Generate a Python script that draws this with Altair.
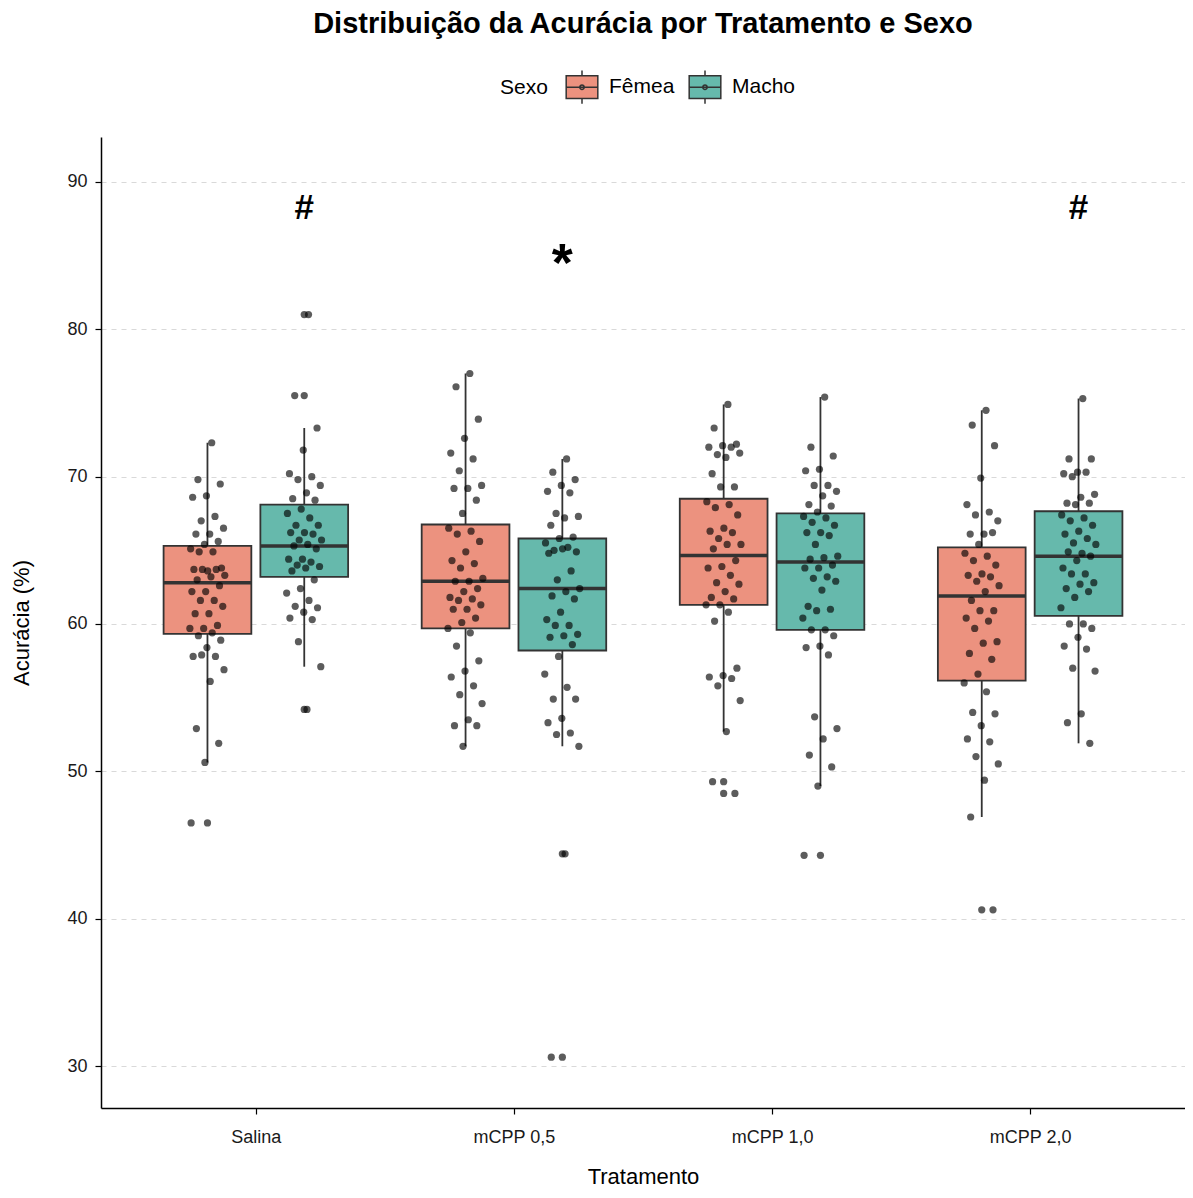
import json
import altair as alt
import pandas as pd

# ---------------- data ----------------
tratamentos = ["Salina", "mCPP 0,5", "mCPP 1,0", "mCPP 2,0"]
sexos = ["Fêmea", "Macho"]
cores = ["#EC927F", "#66B9AC"]

salina_femea = [72.3, 69.8, 69.5, 68.7, 68.6, 67.3, 67.0, 66.5, 66.1, 66.1, 65.6, 65.4, 65.1, 64.9, 64.9,
                63.8, 63.6, 63.7, 63.7, 63.7, 63.3, 63.2, 63.0, 62.6, 62.2, 62.2, 61.6, 61.6, 61.2, 60.7,
                60.7, 59.9, 59.7, 59.7, 59.4, 59.2, 58.9, 58.4, 57.8, 57.8, 57.9, 56.9, 56.1, 52.9, 51.9,
                50.6, 46.5]
salina_macho = [81.0, 75.5, 73.3, 71.8, 70.2, 70.0, 69.8, 69.4, 68.9, 68.5, 68.4, 67.8, 67.5, 67.2, 66.7,
                66.7, 66.2, 66.2, 66.1, 65.7, 65.7, 65.4, 65.3, 65.1, 64.4, 64.4, 64.2, 64.0, 63.9, 63.8,
                63.6, 63.0, 62.4, 62.1, 61.6, 61.2, 61.1, 60.8, 60.4, 60.3, 58.8, 57.1, 54.2]
mcpp05_femea = [77.0, 76.1, 73.9, 72.6, 71.6, 71.2, 70.4, 69.4, 69.2, 69.2, 68.4, 67.5, 66.5, 66.3, 66.1,
                65.6, 64.9, 64.3, 64.1, 63.8, 63.1, 62.9, 62.9, 62.4, 62.2, 61.8, 61.7, 61.6, 61.3, 61.0,
                61.0, 60.4, 60.1, 59.7, 59.4, 58.5, 57.5, 56.8, 56.4, 55.8, 55.2, 54.6, 53.5, 53.1, 53.1,
                51.7]
mcpp05_macho = [71.2, 70.3, 69.8, 69.4, 69.0, 68.9, 67.5, 67.3, 67.2, 66.7, 65.9, 65.8, 65.5, 65.2, 65.0,
                64.9, 65.1, 64.8, 63.6, 63.0, 62.4, 62.2, 61.9, 61.7, 60.8, 60.3, 59.9, 59.9, 59.3, 59.2,
                59.1, 58.6, 57.8, 56.6, 55.7, 54.9, 54.9, 53.6, 53.3, 52.6, 52.5, 51.7, 44.4, 30.6]
mcpp10_femea = [74.9, 73.3, 72.2, 72.1, 72.0, 72.0, 71.5, 71.6, 71.3, 70.2, 69.3, 69.3, 68.3, 68.1, 67.9,
                67.4, 66.5, 66.3, 66.2, 65.8, 65.4, 65.4, 65.1, 64.3, 63.9, 63.8, 63.3, 62.8, 62.7, 62.2,
                61.8, 61.7, 61.3, 61.3, 60.8, 60.2, 57.0, 56.5, 56.4, 56.3, 55.8, 54.8, 52.7, 49.3, 48.5]
mcpp10_macho = [75.4, 72.0, 71.4, 70.5, 70.4, 69.4, 69.4, 69.0, 68.7, 68.1, 68.0, 67.6, 67.3, 67.2, 66.9,
                66.7, 66.2, 66.2, 66.0, 65.4, 64.6, 64.5, 64.4, 64.0, 63.8, 63.8, 63.2, 63.1, 62.9, 62.3,
                61.2, 61.0, 60.9, 60.4, 59.6, 59.6, 59.2, 58.5, 58.4, 57.9, 53.7, 52.9, 52.2, 51.1, 50.3,
                49.0, 44.3]
mcpp20_femea = [74.5, 73.5, 72.1, 69.9, 68.1, 67.6, 67.4, 67.0, 66.1, 66.1, 66.2, 65.4, 64.8, 64.6, 64.3,
                64.0, 63.4, 63.3, 63.2, 62.9, 62.6, 62.2, 61.6, 60.9, 60.9, 60.4, 60.2, 59.7, 58.8, 58.7,
                58.0, 57.6, 56.6, 56.0, 55.4, 54.0, 53.9, 53.1, 52.2, 52.0, 51.0, 50.5, 49.4, 46.9, 40.6]
mcpp20_macho = [75.3, 71.2, 71.2, 70.3, 70.2, 70.3, 70.0, 68.8, 68.6, 68.2, 68.2, 68.1, 67.4, 67.2, 67.0,
                66.7, 66.3, 66.1, 65.8, 65.5, 65.4, 64.8, 64.9, 64.6, 64.3, 63.8, 63.4, 63.4, 62.8, 62.7,
                62.4, 62.2, 61.8, 61.1, 60.0, 60.0, 59.7, 59.1, 58.5, 58.3, 57.0, 56.8, 53.9, 53.3, 51.9]

# box statistics, order: Salina F, Salina M, 0,5 F, 0,5 M, 1,0 F, 1,0 M, 2,0 F, 2,0 M
q1 = [59.33, 63.2, 59.7, 58.2, 61.3, 59.6, 56.15, 60.55]
mediana = [62.8, 65.3, 62.9, 62.4, 64.65, 64.2, 61.9, 64.6]
q3 = [65.3, 68.1, 66.75, 65.8, 68.5, 67.5, 65.2, 67.65]
bigode_inf = [50.6, 57.1, 51.7, 51.7, 52.7, 49.0, 46.9, 51.9]
bigode_sup = [72.3, 73.3, 77.0, 71.2, 74.9, 75.4, 74.5, 75.3]

anot_tratamento = ["Salina", "mCPP 0,5", "mCPP 2,0"]
anot_sexo = ["Macho", "Macho", "Macho"]
anot_texto = ["#", "*", "#"]
anot_valor = [87.5, 83.3, 87.5]

# ---------------- tables ----------------
grupos = [
    ("Salina", "Fêmea", salina_femea), ("Salina", "Macho", salina_macho),
    ("mCPP 0,5", "Fêmea", mcpp05_femea), ("mCPP 0,5", "Macho", mcpp05_macho),
    ("mCPP 1,0", "Fêmea", mcpp10_femea), ("mCPP 1,0", "Macho", mcpp10_macho),
    ("mCPP 2,0", "Fêmea", mcpp20_femea), ("mCPP 2,0", "Macho", mcpp20_macho),
]
rows = []
for t, s, vals in grupos:
    for v in vals:
        rows.append({"tratamento": t, "sexo": s, "valor": v})
pontos = pd.DataFrame(rows)

stats = pd.DataFrame({
    "tratamento": [t for t in tratamentos for _ in sexos],
    "sexo": sexos * len(tratamentos),
    "q1": q1, "mediana": mediana, "q3": q3,
    "bigode_inf": bigode_inf, "bigode_sup": bigode_sup,
})

m = pontos.merge(stats, on=["tratamento", "sexo"])
outliers = m[(m.valor < m.bigode_inf - 1e-9) | (m.valor > m.bigode_sup + 1e-9)][["tratamento", "sexo", "valor"]]

anot = pd.DataFrame({"tratamento": anot_tratamento, "sexo": anot_sexo,
                     "texto": anot_texto, "valor": anot_valor})

# ---------------- encodings ----------------
FONT = "Liberation Sans"
XPOS = (f"indexof({json.dumps(tratamentos)}, datum.tratamento) + 1 + "
        f"(indexof({json.dumps(sexos, ensure_ascii=False)}, datum.sexo) - 0.5) * 0.375")

xscale = alt.Scale(domain=[0.4, 4.6], nice=False, zero=False)
yscale = alt.Scale(domain=[27.15, 93.05], nice=False, zero=False)

xaxis = alt.Axis(values=[1, 2, 3, 4], labelExpr=f"{json.dumps(tratamentos)}[datum.value - 1]",
                 grid=False, domainColor="black", domainWidth=1.5, tickColor="black",
                 tickWidth=1.2, tickSize=6, labelFontSize=18, labelColor="#1a1a1a",
                 labelPadding=14, titleFontSize=22, titleFontWeight="normal",
                 titleColor="black", titlePadding=20, labelFont=FONT, titleFont=FONT)
yaxis = alt.Axis(values=[30, 40, 50, 60, 70, 80, 90], grid=True, gridDash=[5, 5],
                 gridColor="#d9d9d9", gridWidth=1, domainColor="black", domainWidth=1.5,
                 tickColor="black", tickWidth=1.2, tickSize=6, labelFontSize=18,
                 labelColor="#1a1a1a", labelPadding=8, titleFontSize=22,
                 titleFontWeight="normal", titleColor="black", titlePadding=33,
                 labelFont=FONT, titleFont=FONT)


def X(f):
    return alt.X(f, scale=xscale, axis=xaxis, title="Tratamento")


def Y(f):
    return alt.Y(f, scale=yscale, axis=yaxis, title="Acurácia (%)")


base = (alt.Chart(stats)
        .transform_calculate(xpos=XPOS)
        .transform_calculate(xl="datum.xpos - 0.17", xr="datum.xpos + 0.17"))

bigode_baixo = base.mark_rule(color="#333333", strokeWidth=1.8).encode(
    x=X("xpos:Q"), y=Y("bigode_inf:Q"), y2="q1:Q")
bigode_alto = base.mark_rule(color="#333333", strokeWidth=1.8).encode(
    x=X("xpos:Q"), y=Y("q3:Q"), y2="bigode_sup:Q")

legend_path = ("M-1,-0.72H1V0.72H-1Z M0,-1.05V-0.72 M0,0.72V1.05 M-1,0H1 "
               "M0.14,0A0.14,0.14 0 1,1 -0.14,0A0.14,0.14 0 1,1 0.14,0")

caixas = base.mark_rect(stroke="#333333", strokeWidth=1.8, opacity=1).encode(
    x=X("xl:Q"), x2="xr:Q", y=Y("q1:Q"), y2="q3:Q",
    color=alt.Color("sexo:N", scale=alt.Scale(domain=sexos, range=cores),
                    legend=alt.Legend(title="Sexo", orient="none", legendX=399, legendY=-67,
                                      direction="horizontal", titleOrient="left",
                                      symbolType=legend_path, symbolSize=1000,
                                      symbolStrokeColor="#333333", symbolStrokeWidth=1.5,
                                      labelFontSize=21, titleFontSize=21,
                                      titleFontWeight="normal", titleColor="black",
                                      labelColor="black", labelOffset=10, titlePadding=17,
                                      columnPadding=11, labelFont=FONT, titleFont=FONT)))

medianas = base.mark_rule(color="#333333", strokeWidth=3.5).encode(
    x=X("xl:Q"), x2="xr:Q", y=Y("mediana:Q"))

pts = (alt.Chart(pontos)
       .transform_calculate(xpos=XPOS)
       .transform_window(rn="row_number()", groupby=["tratamento", "sexo"])
       .transform_calculate(xj="datum.xpos + ((datum.rn * 0.618034) % 1 - 0.5) * 0.14")
       .mark_circle(size=52, color="black", opacity=0.64)
       .encode(x=X("xj:Q"), y=Y("valor:Q")))

outl = (alt.Chart(outliers)
        .transform_calculate(xpos=XPOS)
        .mark_circle(size=52, color="black", opacity=0.64)
        .encode(x=X("xpos:Q"), y=Y("valor:Q")))

anot_base = alt.Chart(anot).transform_calculate(xpos=XPOS)
hash_txt = (anot_base.transform_filter("datum.texto === '#'")
            .mark_text(fontSize=35, fontWeight="bold", font=FONT, color="black",
                       baseline="alphabetic", align="center")
            .encode(x=X("xpos:Q"), y=Y("valor:Q"), text="texto:N"))
star_txt = (anot_base.transform_filter("datum.texto === '*'")
            .mark_text(fontSize=54, fontWeight="bold", font=FONT, color="black",
                       baseline="alphabetic", align="center")
            .encode(x=X("xpos:Q"), y=Y("valor:Q"), text="texto:N"))

chart = (alt.layer(bigode_baixo, bigode_alto, caixas, medianas, pts, outl, hash_txt, star_txt)
         .properties(width=1084, height=971,
                     title=alt.TitleParams("Distribuição da Acurácia por Tratamento e Sexo",
                                           fontSize=29, fontWeight="bold", font=FONT,
                                           color="black", anchor="middle", offset=31),
                     autosize=alt.AutoSizeParams(type="none"),
                     padding={"left": 93, "top": 129, "right": 0, "bottom": 82})
         .configure(font=FONT)
         .configure_view(strokeWidth=0, stroke="transparent"))

chart.save("out.html", embed_options={"renderer": "svg", "actions": False})
